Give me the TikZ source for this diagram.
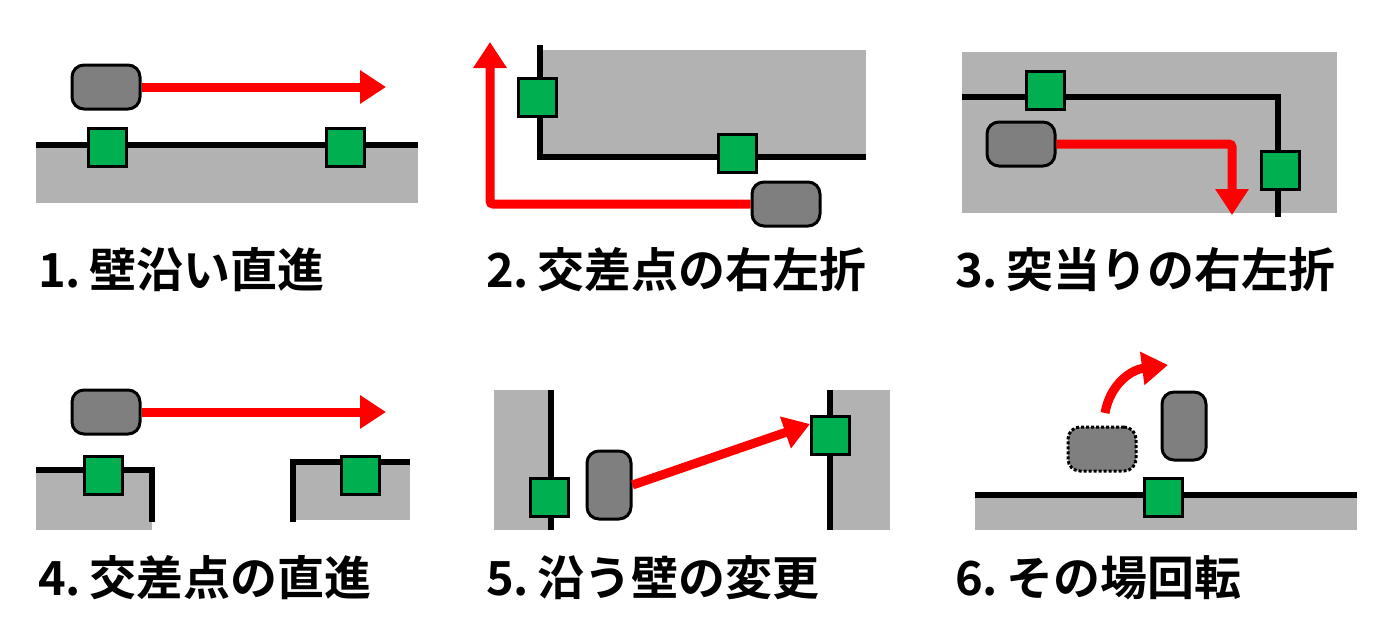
\documentclass[tikz,border=0pt]{standalone}
\usepackage{fontspec}
\setmainfont{Noto Sans CJK JP}[BoldFont={Noto Sans CJK JP Bold}]
\usetikzlibrary{arrows.meta}
\definecolor{gr}{HTML}{00B050}
\definecolor{bg}{HTML}{B2B2B2}
\definecolor{rb}{HTML}{7F7F7F}
\begin{document}
\begin{tikzpicture}[x=1pt,y=-1pt,
  wall/.style={line width=6pt,line cap=butt},
  area/.style={fill=bg},
  sens/.style={draw=black,fill=gr,line width=3pt,minimum size=38pt,inner sep=0pt},
  robh/.style={draw=black,fill=rb,line width=3pt,rounded corners=12pt,minimum width=68pt,minimum height=44pt,inner sep=0pt},
  robv/.style={draw=black,fill=rb,line width=3pt,rounded corners=12pt,minimum width=44pt,minimum height=68pt,inner sep=0pt},
  mv/.style={draw=red,line width=9pt,-{Triangle[length=26pt,width=32pt]}},
  lab/.style={anchor=west,font=\bfseries\fontsize{47pt}{47pt}\selectfont,inner sep=0pt}]
\useasboundingbox (0,0) rectangle (1385,638);
% panel 1
\fill[area] (36,145) rectangle (418,203);
\draw[wall] (36,145) -- (418,145);
\node[sens] (s11) at (107,147) {};
\node[sens] (s12) at (345,147) {};
\node[robh] (r1) at (106,87) {};
\coordinate (e1) at (386,87);
\draw[mv] (r1.east) -- (e1);
\node[lab] (t1) at (38,270) {1.\,壁沿い直進};
% panel 2
\fill[area] (540,50) rectangle (866,157);
\draw[wall] (540,45) -- (540,157) -- (866,157);
\node[sens] (s21) at (537,97) {};
\node[sens] (s22) at (737,153) {};
\node[robh] (r2) at (786,204) {};
\coordinate (e2) at (490,42);
\draw[mv,rounded corners=3pt] (r2.west) -- (490,204) -- (e2);
\node[lab] (t2) at (486,270) {2.\,交差点の右左折};
% panel 3
\fill[area] (962,52) rectangle (1337,213);
\draw[wall] (962,97) -- (1278,97) -- (1278,217);
\node[sens] (s31) at (1045,90) {};
\node[sens] (s32) at (1280,170) {};
\node[robh] (r3) at (1021,144) {};
\coordinate (e3) at (1232,215);
\draw[mv,rounded corners=3pt] (r3.east) -- (1232,144) -- (e3);
\node[lab] (t3) at (955,270) {3.\,突当りの右左折};
% panel 4
\fill[area] (36,470) rectangle (152,530);
\fill[area] (293,462) rectangle (410,520);
\draw[wall] (36,470) -- (152,470) -- (152,522);
\draw[wall] (293,522) -- (293,462) -- (410,462);
\node[sens] (s41) at (103,475) {};
\node[sens] (s42) at (360,475) {};
\node[robh] (r4) at (106,412) {};
\coordinate (e4) at (386,412);
\draw[mv] (r4.east) -- (e4);
\node[lab] (t4) at (38,578) {4.\,交差点の直進};
% panel 5
\fill[area] (494,390) rectangle (551,530);
\fill[area] (830,390) rectangle (890,530);
\draw[wall] (551,390) -- (551,530);
\draw[wall] (830,390) -- (830,530);
\node[sens] (s51) at (549,497) {};
\node[sens] (s52) at (830,435) {};
\node[robv] (r5) at (609,485) {};
\coordinate (e5) at (810,424);
\draw[mv] (r5.east) -- (e5);
\node[lab] (t5) at (486,578) {5.\,沿う壁の変更};
% panel 6
\fill[area] (975,495) rectangle (1357,530);
\draw[wall] (975,495) -- (1357,495);
\node[sens] (s6) at (1163,497) {};
\node[robh,dotted] (r6a) at (1102,449) {};
\node[robv] (r6) at (1184,426) {};
\coordinate (e6) at (1168,365);
\draw[mv] (1105,413) .. controls (1110,385) and (1130,370) .. (e6);
\node[lab] (t6) at (955,578) {6.\,その場回転};
\end{tikzpicture}
\end{document}
